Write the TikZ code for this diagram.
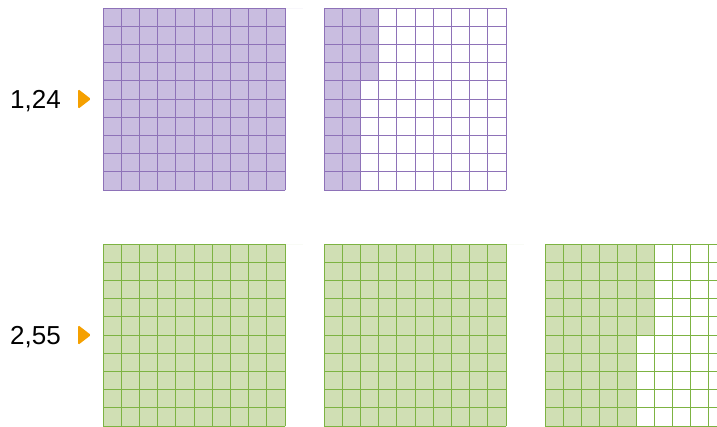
\documentclass[tikz,border=0pt]{standalone}
\usepackage{fontspec}
\setmainfont{Liberation Sans}
\usepackage{tikz}
\usetikzlibrary{positioning}
\definecolor{gridpurple}{HTML}{8E72B8}
\definecolor{fillpurple}{HTML}{C9BDE0}
\definecolor{gridgreen}{HTML}{7DB342}
\definecolor{fillgreen}{HTML}{D0DFB4}
\definecolor{markorange}{HTML}{F5A000}

% hundred square: x, y (top left), shaded cells, line colour, fill colour
\newcommand{\hundredsq}[5]{%
  \pgfmathtruncatemacro{\fullcols}{int(#3/10)}
  \pgfmathtruncatemacro{\restcells}{#3-10*\fullcols}
  \fill[#5] (#1,#2) rectangle ++(\fullcols*18.2,182);
  \fill[#5] (#1+\fullcols*18.2,#2) rectangle ++(18.2,\restcells*18.2);
  \foreach \k in {0,...,10} {
    \draw[sqline,#4] (#1+\k*18.2,#2) -- ++(0,182);
    \draw[sqline,#4] (#1,#2+\k*18.2) -- ++(182,0);
  }
}

\begin{document}
\begin{tikzpicture}[
  x=1pt, y=-1pt,
  sqline/.style={line width=0.9pt, line cap=rect},
  number/.style={font=\fontsize{26}{26}\selectfont, anchor=base east, inner sep=0pt},
  pointer/.style={fill=markorange, rounded corners=1.5pt}
]
  \clip (0,0) rectangle (717,426);

  % 1,24
  \node[number] (val1) at (61,108) {1,24};
  \fill[pointer] (78,89) -- (91,99) -- (78,109) -- cycle;
  \hundredsq{103}{8}{100}{gridpurple}{fillpurple}
  \hundredsq{324}{8}{24}{gridpurple}{fillpurple}

  % 2,55
  \node[number] (val2) at (61,344) {2,55};
  \fill[pointer] (78,325) -- (91,335) -- (78,345) -- cycle;
  \hundredsq{103}{244}{100}{gridgreen}{fillgreen}
  \hundredsq{324}{244}{100}{gridgreen}{fillgreen}
  \hundredsq{545}{244}{55}{gridgreen}{fillgreen}
\end{tikzpicture}
\end{document}
